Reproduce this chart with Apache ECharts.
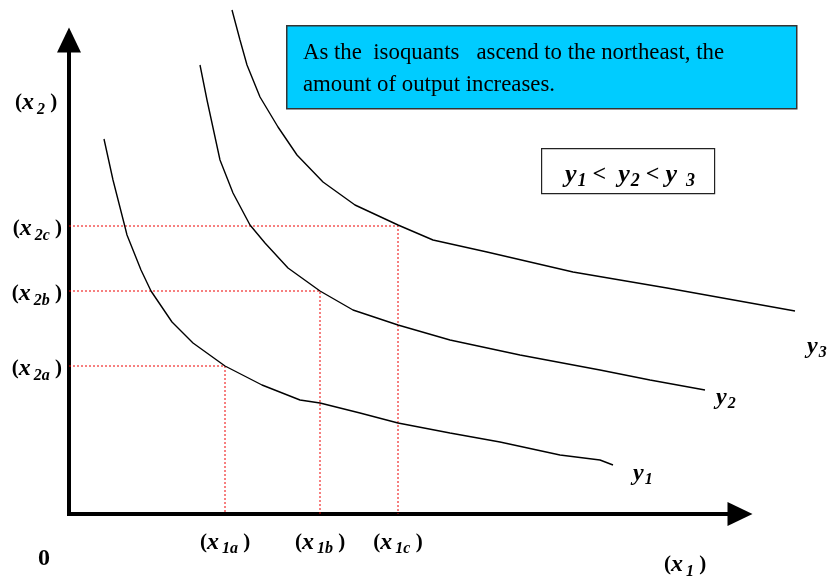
<!DOCTYPE html>
<html>
<head>
<meta charset="utf-8">
<script src="https://cdn.jsdelivr.net/npm/echarts@6/dist/echarts.min.js"></script>
<style>
html, body { margin: 0; padding: 0; background: #fff; }
#chart { width: 829px; height: 577px; }
</style>
</head>
<body>
<div id="chart"></div>
<script>
// isoquant points, x1 = right of origin, x2 = above origin
var isoY1 = [[35,375],[44,334],[56,287],[58,279],[72,244],[82,223],[103,192],[124,171],[156,148],[193,129],[231,114],[251,111],[291,101],[329,91],[381,81],[431,72],[491,59],[531,54],[544,49]];
var isoY2 = [[131,449],[138,414],[151,354],[164,321],[181,289],[196,271],[219,246],[251,223],[284,204],[329,189],[381,174],[451,159],[531,144],[581,134],[636,124]];
var isoY3 = [[163,504],[171,474],[178,449],[191,417],[209,387],[228,359],[254,332],[286,309],[329,289],[364,274],[418,262],[504,242],[598,226],[726,203]];
var curveIdx = ['1', '2', '3'];

var x1Ticks = [156, 251, 329];
var x2Ticks = [148, 223, 288];
var x1Subs = ['1a', '1b', '1c'];
var x2Subs = ['2a', '2b', '2c'];

var serif = '"Liberation Serif", "Times New Roman", serif';

var rich = {
    p: {fontFamily: serif, fontWeight: 'bold', fontSize: 21, color: '#000'},
    v: {fontFamily: serif, fontWeight: 'bold', fontStyle: 'italic', fontSize: 24, color: '#000'},
    s: {fontFamily: serif, fontWeight: 'bold', fontStyle: 'italic', fontSize: 16, color: '#000', padding: [13, 0, 0, 3]}
};

function varLabel(sub) {
    return '{p|(}{v|x}{s|' + sub + '}{p| )}';
}

var chart = echarts.init(document.getElementById('chart'));

var curves = [isoY1, isoY2, isoY3];
var endOffsets = [[12, 9], [3, 8], [4, 36]];
var series = curves.map(function (pts, i) {
    return {
        type: 'line',
        xAxisIndex: 1, yAxisIndex: 1,
        data: pts,
        showSymbol: false,
        clip: false,
        silent: true,
        lineStyle: {color: '#000', width: 1.4},
        endLabel: {
            show: true,
            formatter: '{v|y}{s|' + curveIdx[i] + '}',
            offset: endOffsets[i],
            rich: {
                v: rich.v,
                s: {fontFamily: serif, fontWeight: 'bold', fontStyle: 'italic', fontSize: 16, color: '#000', padding: [12, 0, 0, 1]}
            }
        },
        z: 3
    };
});

// dotted guides from each tangency point to both axes
x1Ticks.forEach(function (x, i) {
    series.push({
        type: 'line',
        xAxisIndex: 1, yAxisIndex: 1,
        data: [[0, x2Ticks[i]], [x, x2Ticks[i]], [x, 0]],
        showSymbol: false,
        silent: true,
        lineStyle: {color: '#ee0000', width: 1, type: [2, 2]},
        z: 2
    });
});

var arrowLine = {
    onZero: false,
    symbol: ['none', 'triangle'],
    symbolSize: [24, 25],
    lineStyle: {color: '#000', width: 4, cap: 'square'}
};

chart.setOption({
    animation: false,
    // grid 0 carries the drawn axes, grid 1 (same scale, wider) carries the curves
    grid: [
        {left: 69, right: 89, top: 40, bottom: 63},
        {left: 69, right: 10, top: 10, bottom: 63}
    ],
    xAxis: [{
        type: 'value', min: 0, max: 671,
        splitLine: {show: false},
        axisTick: {show: false},
        axisLine: arrowLine,
        axisLabel: {
            customValues: x1Ticks,
            margin: 14,
            formatter: function (v) { return varLabel(x1Subs[x1Ticks.indexOf(v)]); },
            rich: rich
        }
    }, {
        type: 'value', gridIndex: 1, min: 0, max: 750, show: false
    }],
    yAxis: [{
        type: 'value', min: 0, max: 474,
        splitLine: {show: false},
        axisTick: {show: false},
        axisLine: arrowLine,
        axisLabel: {
            customValues: x2Ticks,
            margin: 7,
            padding: [6, 0, 0, 0],
            formatter: function (v) { return varLabel(x2Subs[x2Ticks.indexOf(v)]); },
            rich: rich
        }
    }, {
        type: 'value', gridIndex: 1, min: 0, max: 504, show: false
    }],
    series: series,
    graphic: [
        {
            type: 'rect', left: 286, top: 25, z: 10,
            shape: {width: 510, height: 83},
            style: {fill: '#00ccff', stroke: '#333', lineWidth: 1.5}
        },
        {
            type: 'text', left: 303, top: 37, z: 11,
            style: {
                text: 'As the  isoquants   ascend to the northeast, the\namount of output increases.',
                font: '22.8px ' + serif, fill: '#000', lineHeight: 32
            }
        },
        {
            type: 'rect', left: 541, top: 148, z: 10,
            shape: {width: 173, height: 45},
            style: {fill: '#fff', stroke: '#222', lineWidth: 1.2}
        },
        {
            type: 'text', left: 565, top: 162, z: 11,
            style: {
                text: '{v|y}{s|1}{o| <  }{v|y}{s|2}{o| < }{v|y}{t|3}',
                rich: {
                    v: {fontFamily: serif, fontWeight: 'bold', fontStyle: 'italic', fontSize: 26},
                    s: {fontFamily: serif, fontWeight: 'bold', fontStyle: 'italic', fontSize: 18, padding: [12, 0, 0, 1]},
                    t: {fontFamily: serif, fontWeight: 'bold', fontStyle: 'italic', fontSize: 18, padding: [12, 0, 0, 9]},
                    o: {fontFamily: serif, fontWeight: 'bold', fontSize: 24}
                }
            }
        },
        {
            type: 'text', left: 15, top: 91,
            style: {text: varLabel('2'), rich: rich}
        },
        {
            type: 'text', left: 664, top: 553,
            style: {text: varLabel('1'), rich: rich}
        },
        {
            type: 'text', left: 38, top: 547,
            style: {text: '0', font: 'bold 24px ' + serif, fill: '#000'}
        }
    ]
});
</script>
</body>
</html>
